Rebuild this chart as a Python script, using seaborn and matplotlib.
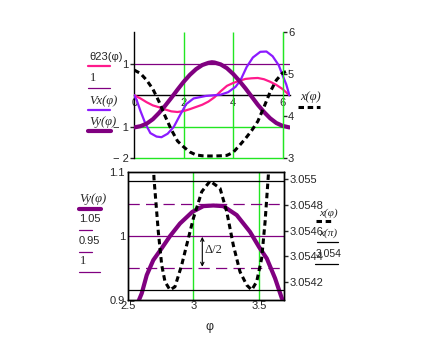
import numpy as np
import pandas as pd
import matplotlib
matplotlib.use("Agg")
import matplotlib.pyplot as plt
from matplotlib.lines import Line2D
import seaborn as sns

# ---------------- data ----------------
# top panel
theta_phi = [0, 0.25, 0.5, 0.75, 1.0, 1.25, 1.5, 1.75, 2.0, 2.25, 2.5, 2.75, 3.0, 3.25,
             3.5, 3.75, 4.0, 4.25, 4.5, 4.75, 5.0, 5.25, 5.5, 5.75, 6.0, 6.28]
theta23 = [0, -0.1, -0.22, -0.32, -0.38, -0.45, -0.51, -0.53, -0.5, -0.44, -0.37, -0.3, -0.2,
           -0.06, 0.13, 0.3, 0.39, 0.46, 0.52, 0.54, 0.55, 0.51, 0.43, 0.33, 0.2, 0.0]

vx_phi = [0, 0.1, 0.25, 0.45, 0.65, 0.9, 1.1, 1.35, 1.6, 1.85, 2.1, 2.4, 2.9, 3.5, 3.8,
          4.1, 4.3, 4.55, 4.8, 5.1, 5.35, 5.6, 5.85, 6.0, 6.15, 6.28]
vx = [0, -0.16, -0.5, -0.9, -1.2, -1.31, -1.33, -1.22, -1.0, -0.63, -0.28, -0.1, -0.02, 0.02,
      0.1, 0.27, 0.48, 0.9, 1.2, 1.38, 1.39, 1.24, 0.95, 0.64, 0.35, 0.0]

vy_phi = [0, 0.25, 0.5, 0.75, 1.0, 1.25, 1.5, 1.75, 2.0, 2.25, 2.5, 2.75, 3.0, 3.14, 3.25,
          3.5, 3.75, 4.0, 4.25, 4.5, 4.75, 5.0, 5.25, 5.5, 5.75, 6.0, 6.28]
vy = [-1.02, -0.98, -0.9, -0.76, -0.56, -0.33, -0.08, 0.18, 0.43, 0.65, 0.83, 0.96, 1.03, 1.05,
      1.04, 0.98, 0.86, 0.68, 0.46, 0.22, -0.04, -0.3, -0.53, -0.73, -0.88, -0.97, -1.02]

xk_phi = [0, 0.25, 0.5, 0.75, 1.0, 1.25, 1.5, 1.75, 2.0, 2.25, 2.5, 2.75, 3.0, 3.25, 3.5,
          3.75, 4.0, 4.25, 4.5, 4.75, 5.0, 5.25, 5.5, 5.75, 6.0, 6.28]
xk = [5.1, 5.02, 4.86, 4.65, 4.35, 4.0, 3.68, 3.41, 3.27, 3.15, 3.08, 3.06, 3.055, 3.055, 3.06,
      3.07, 3.14, 3.3, 3.47, 3.66, 3.88, 4.22, 4.58, 4.86, 5.03, 5.1]

top_xticks = [0, 2, 4, 6]
top_yticks = [-2, -1, 1]
top_yticklabels = ["\u2212 2", "\u2212 1", "1"]
top_r_ticks = [3, 4, 5, 6]

# bottom panel
vyb_phi = [2.58, 2.607, 2.645, 2.695, 2.759, 2.822, 2.898, 2.992, 3.076, 3.152, 3.228, 3.33,
           3.431, 3.5, 3.559, 3.622, 3.673, 3.7]
vyb = [0.897, 0.9105, 0.939, 0.9625, 0.981, 1.0, 1.0198, 1.038, 1.047, 1.048, 1.047, 1.033,
       1.0068, 0.983, 0.965, 0.934, 0.903, 0.893]

xb_phi = [2.68, 2.70, 2.733, 2.759, 2.784, 2.822, 2.86, 2.911, 2.949, 3.0, 3.064, 3.127, 3.203,
          3.254, 3.304, 3.355, 3.406, 3.444, 3.482, 3.52, 3.546, 3.571, 3.59]
xb = [3.0556, 3.055005, 3.054591, 3.054333, 3.054204, 3.05414, 3.054165, 3.054333, 3.054488,
      3.054695, 3.054902, 3.054984, 3.054928, 3.054747, 3.054488, 3.054281, 3.054178, 3.05414,
      3.054204, 3.054385, 3.054669, 3.055031, 3.0556]

x_pi = 3.054984
x_low = 3.05414
bot_xticks = [2.5, 3, 3.5]
bot_yticks = [0.9, 1, 1.1]
bot_r_ticks = [3.0542, 3.0544, 3.0546, 3.0548, 3.055]
bot_r_labels = ["3.0542", "3.0544", "3.0546", "3.0548", "3.055"]

# ---------------- style ----------------
sns.set_style("white")
plt.rcParams['font.family'] = ['Liberation Sans', 'DejaVu Sans']
PINK = "#FF1A8C"
VIOLET = "#8C1AFF"
PURPLE = "#800080"
GREEN = "#22E622"
FS = 8

W, H = 425, 340
fig = plt.figure(figsize=(W / 100, H / 100), dpi=100)


def fx(px):
    return px / W


def fy(py):
    return 1 - py / H


def fig_line(x0, x1, y, **kw):
    fig.add_artist(Line2D([fx(x0), fx(x1)], [fy(y), fy(y)], transform=fig.transFigure, **kw))


def fig_text(x, y, s, **kw):
    kw.setdefault("fontsize", FS)
    fig.text(fx(x), fy(y), s, va="center", ha="left", **kw)


DOT = (0, (1.8, 1.2))
DLW = 2.2

# ---------------- top panel ----------------
ax1 = fig.add_axes([fx(134.3), fy(158.3), (289.5 - 134.3) / W, (158.3 - 32.3) / H])
ax1.set_xlim(0, 2 * np.pi)
ax1.set_ylim(-2, 2)
ax1.patch.set_alpha(0)

ax1.vlines([2, 4, 6], -2, 2, color=GREEN, lw=1, zorder=1)
ax1.hlines([-1, -2], 0, 6, color=GREEN, lw=1, zorder=1, clip_on=False)
ax1.axhline(1, color=PURPLE, lw=0.9, zorder=2)

sns.lineplot(x=theta_phi, y=theta23, ax=ax1, color=PINK, lw=1.6, estimator=None, zorder=3)
sns.lineplot(x=vx_phi, y=vx, ax=ax1, color=VIOLET, lw=1.6, estimator=None, zorder=3)
sns.lineplot(x=vy_phi, y=vy, ax=ax1, color=PURPLE, lw=3.0, estimator=None, zorder=3)

for s in ["top", "right"]:
    ax1.spines[s].set_visible(False)
ax1.spines["bottom"].set_position(("data", 0))
ax1.spines["left"].set_position(("data", 0))
for s in ["bottom", "left"]:
    ax1.spines[s].set_color("black")
    ax1.spines[s].set_linewidth(1)
ax1.set_xticks(top_xticks)
ax1.set_xticklabels([str(t) for t in top_xticks])
ax1.set_yticks(top_yticks)
ax1.set_yticklabels(top_yticklabels)
ax1.tick_params(axis="x", length=0, pad=2, labelsize=FS)
ax1.tick_params(axis="y", length=3, width=1, direction="out", pad=1, labelsize=FS)

ax1r = ax1.twinx()
ax1r.set_ylim(3, 6)
ax1r.patch.set_alpha(0)
sns.lineplot(x=xk_phi, y=xk, ax=ax1r, color="black", lw=DLW, linestyle=DOT, estimator=None)
for s in ["top", "bottom", "left"]:
    ax1r.spines[s].set_visible(False)
ax1r.spines["right"].set_position(("data", 6))
ax1r.spines["right"].set_color(GREEN)
ax1r.set_yticks(top_r_ticks)
ax1r.set_yticklabels([str(t) for t in top_r_ticks])
ax1r.tick_params(axis="y", length=3, width=1, direction="out", pad=1, labelsize=FS)
ax1r.set_xlabel("")
ax1r.set_ylabel("")
ax1.set_xlabel("")
ax1.set_ylabel("")

SER = dict(family="Liberation Serif", style="italic", fontsize=9)

# top legends
fig_text(89, 57, "\u03b823(\u03c6)")
fig_line(88, 110, 66, color=PINK, lw=1.6)
fig_text(90, 78, "1", family="Liberation Serif", fontsize=9)
fig_line(88, 110, 88, color=PURPLE, lw=0.9)
fig_text(89, 101, "Vx(\u03c6)", **SER)
fig_line(88, 110, 110, color=VIOLET, lw=1.6)
fig_text(89, 122, "Vy(\u03c6)", **SER)
fig_line(88, 111, 131, color=PURPLE, lw=3.0)
fig_text(300, 97, "x(\u03c6)", **SER)
fig_line(298, 320, 106.5, color="black", lw=DLW, linestyle=DOT)

# ---------------- bottom panel ----------------
ax2 = fig.add_axes([fx(127.7), fy(300), (284 - 127.7) / W, (300 - 172.3) / H])
ax2.set_xlim(2.5, 3.69)
ax2.set_ylim(0.9, 1.1)
ax2.patch.set_alpha(0)
ax2.vlines([3, 3.5], 0.9, 1.1, color=GREEN, lw=1, zorder=1)
ax2.axhline(1, color=PURPLE, lw=0.9, zorder=2)
ax2.axhline(1.05, color=PURPLE, lw=0.9, linestyle=(0, (9, 5)), zorder=2)
ax2.axhline(0.95, color=PURPLE, lw=0.9, linestyle=(0, (9, 5)), zorder=2)
sns.lineplot(x=vyb_phi, y=vyb, ax=ax2, color=PURPLE, lw=3.0, estimator=None, zorder=3)
ax2.annotate("", xy=(3.068, 0.952), xytext=(3.068, 0.999),
             arrowprops=dict(arrowstyle="<->", lw=0.8, color="black", shrinkA=0, shrinkB=0,
                             mutation_scale=6))
ax2.text(3.085, 0.978, "\u0394/2", fontsize=9, va="center", ha="left",
         family="Liberation Serif")
for s in ax2.spines.values():
    s.set_color("black")
    s.set_linewidth(1)
ax2.set_xticks(bot_xticks)
ax2.set_xticklabels(["2.5", "3", "3.5"])
ax2.set_yticks(bot_yticks)
ax2.set_yticklabels(["0.9", "1", "1.1"])
ax2.tick_params(axis="x", length=0, pad=1, labelsize=FS)
ax2.tick_params(axis="y", length=0, pad=2, labelsize=FS)
ax2.set_xlabel("")
ax2.set_ylabel("")

ax2r = ax2.twinx()
ax2r.set_ylim(3.054062, 3.055052)
ax2r.patch.set_alpha(0)
ax2r.axhline(x_pi, color="black", lw=0.9)
ax2r.axhline(x_low, color="black", lw=0.9)
sns.lineplot(x=xb_phi, y=xb, ax=ax2r, color="black", lw=DLW, linestyle=DOT, estimator=None)
for s in ax2r.spines.values():
    s.set_color("black")
    s.set_linewidth(1)
ax2r.set_yticks(bot_r_ticks)
ax2r.set_yticklabels(bot_r_labels)
ax2r.tick_params(axis="y", length=3, width=1, direction="out", pad=1, labelsize=FS)
ax2r.set_xlabel("")
ax2r.set_ylabel("")

fig_text(205, 327, "\u03c6", fontsize=9)

# bottom legends
fig_text(79, 199, "Vy(\u03c6)", **SER)
fig_line(79, 101, 208.5, color=PURPLE, lw=3.0)
fig_text(79, 219, "1.05")
fig_line(79, 92, 229.5, color=PURPLE, lw=0.9)
fig_text(79, 241, "0.95")
fig_line(79, 92, 251.5, color=PURPLE, lw=0.9)
fig_text(80, 261.5, "1", family="Liberation Serif", fontsize=9)
fig_line(79, 100, 271.5, color=PURPLE, lw=0.9)

fig_text(319, 213, "x(\u03c6)", family="Liberation Serif", style="italic", fontsize=8)
fig_line(316, 334, 221, color="black", lw=DLW, linestyle=DOT)
fig_text(319, 233, "x(\u03c0)", family="Liberation Serif", style="italic", fontsize=8)
fig_line(317, 338, 242, color="black", lw=0.9)
fig_text(316, 254, "3.054", fontsize=7.5)
fig_line(315, 338, 264, color="black", lw=0.9)

fig.savefig("out.png", dpi=100)
